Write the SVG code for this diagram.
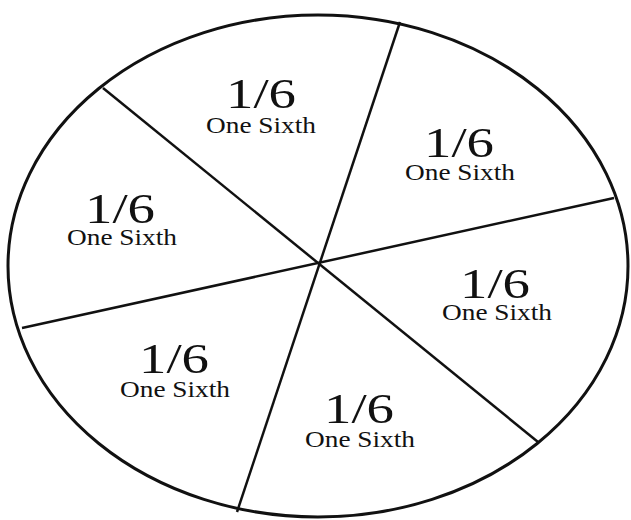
<svg xmlns="http://www.w3.org/2000/svg" width="631" height="520" viewBox="0 0 631 520">
<style>
.f{font-family:"Liberation Serif","Times New Roman",serif;fill:#111;text-anchor:middle}
.n{font-size:43px}
.w{font-size:23px}
.ln{stroke:#111;stroke-width:2.5;fill:none}
</style>
<rect width="631" height="520" fill="#fff"/>
<g id="pie">
<ellipse cx="318" cy="266" rx="310" ry="251" fill="#fff" stroke="#111" stroke-width="3"/>
</g>
<g id="connectors">
<line class="ln" x1="103" y1="88" x2="538" y2="442"/>
<line class="ln" x1="400" y1="22" x2="237" y2="512"/>
<line class="ln" x1="22" y1="328" x2="614" y2="198"/>
</g>
<g id="s1"><text class="f n" x="261" y="108" textLength="70" lengthAdjust="spacingAndGlyphs">1/6</text><text class="f w" x="261" y="133" textLength="110" lengthAdjust="spacingAndGlyphs">One Sixth</text></g>
<g id="s2"><text class="f n" x="459" y="157" textLength="70" lengthAdjust="spacingAndGlyphs">1/6</text><text class="f w" x="460" y="180" textLength="110" lengthAdjust="spacingAndGlyphs">One Sixth</text></g>
<g id="s3"><text class="f n" x="120" y="223" textLength="70" lengthAdjust="spacingAndGlyphs">1/6</text><text class="f w" x="122" y="245" textLength="110" lengthAdjust="spacingAndGlyphs">One Sixth</text></g>
<g id="s4"><text class="f n" x="495" y="298" textLength="70" lengthAdjust="spacingAndGlyphs">1/6</text><text class="f w" x="497" y="320" textLength="110" lengthAdjust="spacingAndGlyphs">One Sixth</text></g>
<g id="s5"><text class="f n" x="174" y="373" textLength="70" lengthAdjust="spacingAndGlyphs">1/6</text><text class="f w" x="175" y="397" textLength="110" lengthAdjust="spacingAndGlyphs">One Sixth</text></g>
<g id="s6"><text class="f n" x="359" y="423" textLength="70" lengthAdjust="spacingAndGlyphs">1/6</text><text class="f w" x="360" y="447" textLength="110" lengthAdjust="spacingAndGlyphs">One Sixth</text></g>
</svg>
